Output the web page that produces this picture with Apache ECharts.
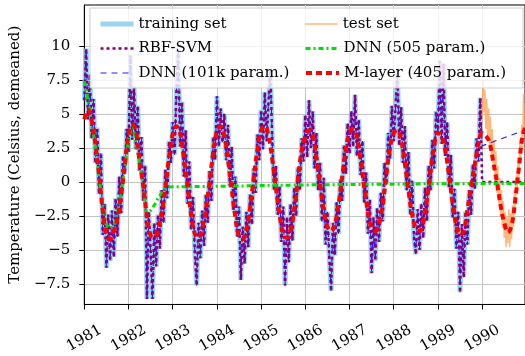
<!DOCTYPE html>
<html><head><meta charset="utf-8">
<script src="https://cdn.jsdelivr.net/npm/echarts@6/dist/echarts.min.js"></script>
<style>html,body{margin:0;padding:0;background:#fff}#c{width:525px;height:356px}</style>
</head><body><div id="c"></div>
<script>
// ---- axis ticks ----
const yearTicks = [1981, 1982, 1983, 1984, 1985, 1986, 1987, 1988, 1989, 1990];
const tempTicks = [-7.5, -5, -2.5, 0, 2.5, 5, 7.5, 10];

// ---- training set (semi-monthly samples, 24 per year) ----
const train1981 = [6.0, 9.8, 4.6, 7.9, 3.2, 6.1, 1.4, 4.0, -0.9, 2.1, -3.9, -1.6, -6.3, -2.4, -5.8, -2.1, -5.5, -1.2, -4.0, 0.4, -2.3, 1.9, 0.6, 3.9];
const train1982 = [2.2, 9.3, 3.1, 7.0, 2.4, 5.6, 0.8, 3.3, -1.4, 1.2, -8.6, -2.2, -5.1, -8.6, -3.0, -6.2, -2.4, -4.9, -0.6, -3.0, 0.9, -1.2, 3.0, 1.4];
const train1983 = [4.4, 2.0, 6.6, 9.7, 2.6, 5.9, 0.4, 3.8, -1.6, 1.5, -3.5, -1.1, -5.2, -7.6, -3.0, -5.6, -2.1, -4.7, -0.9, -3.0, 0.8, -1.4, 3.3, 1.6];
const train1984 = [6.3, 2.6, 5.4, 2.9, 5.0, 1.6, 4.2, -0.3, 2.6, -2.1, 0.4, -4.0, -1.8, -7.2, -3.3, -6.0, -2.2, -4.8, -0.9, -3.1, 1.0, -0.8, 3.5, 1.6];
const train1985 = [5.3, 2.4, 6.6, 3.0, 5.8, 8.2, 3.3, -0.6, 1.2, -2.4, -0.3, -4.4, -1.8, -7.6, -2.6, -5.9, -1.6, -4.3, -0.4, -2.5, 1.1, -0.6, 3.2, 1.5];
const train1986 = [4.9, 1.8, 6.0, 2.5, 5.2, 1.0, 3.6, -0.6, 1.4, -2.9, 0.3, -4.6, -2.2, -5.5, -8.0, -3.0, -5.4, -1.5, -3.8, 0.2, -1.4, 2.7, 0.6, 4.3];
const train1987 = [2.1, 5.2, 2.6, 6.4, 1.9, 4.6, 0.5, 3.0, -1.5, 0.7, -3.8, -1.3, -6.7, -2.6, -5.8, -1.9, -4.4, -0.8, -2.9, 1.4, -0.2, 3.6, 1.7, 5.6];
const train1988 = [3.0, 5.6, 8.2, 2.7, 5.5, 1.4, 4.1, -0.6, 2.2, -2.4, 0.1, -4.1, -5.3, -2.0, -5.0, -1.6, -4.1, -0.4, -2.9, 1.2, -0.6, 3.1, 1.0, 5.2];
const train1989 = [3.4, 8.9, 2.8, 8.7, 1.9, 4.4, -0.4, 2.0, -2.6, -0.5, -4.9, -2.2, -8.1, -3.1, -7.0, -2.2, -4.6, -0.6, -2.4, 1.3, -0.5, 3.2, 1.5, 6.2];

// ---- test set 1990 (weekly-ish samples, 48 per year) ----
const test1990 = [4.6, 7.6, 5.1, 6.8, 3.9, 6.1, 3.2, 5.4, 2.6, 4.8, 1.9, 3.9, 0.9, 3.1, 0.2, 2.3,
  -0.8, 1.2, -1.6, 0.3, -2.5, -0.6, -3.4, -1.4, -4.1, -2.2, -4.8, -2.6, -4.5, -2.0, -4.8, -2.3,
  -4.2, -1.7, -3.3, -0.6, -2.2, 0.5, -0.9, 1.8, 0.3, 3.1, 1.5, 4.2, 2.4, 6.5, 3.6, 5.8];

// ---- M-layer (405 param.) prediction, monthly from Jan 1981 ----
const mLayerMonthly = [
  4.6, 5.3, 4.5, 2.8, 0.5, -2.1, -3.9, -4.2, -3.6, -2.7, -1.0, 1.3,
  3.4, 4.2, 3.8, 1.5, -0.3, -2.5, -3.9, -4.1, -3.5, -2.3, -0.4, 1.8,
  3.5, 4.1, 3.6, 1.8, -0.3, -2.4, -3.8, -4.1, -3.4, -2.0, 0.0, 2.2,
  3.7, 4.1, 3.4, 1.6, -0.5, -2.6, -4.0, -4.2, -3.5, -1.9, 0.3, 2.4,
  3.8, 4.1, 3.4, 1.7, -0.4, -2.4, -3.8, -4.1, -3.5, -2.0, 0.2, 2.3,
  3.3, 3.8, 3.5, 1.8, -0.2, -2.1, -3.3, -3.6, -3.1, -1.7, 0.4, 2.4,
  3.6, 3.9, 3.3, 1.6, -0.4, -2.2, -3.4, -3.6, -3.1, -1.7, 0.5, 2.5,
  3.6, 3.8, 3.1, 1.4, -0.6, -2.4, -3.4, -3.6, -3.0, -1.4, 0.8, 2.7,
  3.6, 3.4, 2.3, 0.5, -1.6, -3.2, -3.9, -3.6, -2.0, -0.3, 1.3, 2.8,
  3.6, 3.4, 2.9, 1.5, 0.0, -1.7, -3.0, -3.7, -3.2, -1.3, 1.1, 3.4,
  4.2];

// ---- DNN (505 param.) prediction, monthly from Jan 1981 ----
const dnn505Monthly = [
  7.4, 6.0, 4.3, 2.6, 0.3, -1.6, -3.1, -3.4, -3.2, -2.2, -0.8, 1.0,
  3.0, 4.0, 2.9, 1.4, -0.3, -2.3, -2.1, -1.7, -1.2, -0.8, -0.5, -0.37,
  -0.36, -0.36, -0.36, -0.35, -0.35, -0.35, -0.34, -0.34, -0.34, -0.33, -0.33, -0.33,
  -0.32, -0.32, -0.31, -0.31, -0.30, -0.30, -0.29, -0.29, -0.28, -0.28, -0.27, -0.27,
  -0.26, -0.26, -0.25, -0.25, -0.25, -0.24, -0.24, -0.24, -0.23, -0.23, -0.23, -0.22,
  -0.22, -0.22, -0.21, -0.21, -0.21, -0.20, -0.20, -0.20, -0.20, -0.19, -0.19, -0.19,
  -0.19, -0.18, -0.18, -0.18, -0.18, -0.17, -0.17, -0.17, -0.17, -0.16, -0.16, -0.16,
  -0.16, -0.16, -0.15, -0.15, -0.15, -0.15, -0.15, -0.14, -0.14, -0.14, -0.14, -0.14,
  -0.14, -0.13, -0.13, -0.13, -0.13, -0.13, -0.13, -0.13, -0.12, -0.12, -0.12, -0.12,
  -0.12, -0.12, -0.12, -0.12, -0.12, -0.12, -0.12, -0.12, -0.12, -0.12, -0.12, -0.12,
  -0.12];

// ---- RBF-SVM and DNN (101k param.) on the test year (they reproduce the training set before) ----
const testEdges = [1990, 1991];
const rbfTest = [0.0, 0.0];
const dnn101kTest = [2.65, 3.85];

// ---------------------------------------------------------------
const FONT = 'DejaVu Serif';
const trainByYear = [[1981, train1981], [1982, train1982], [1983, train1983], [1984, train1984],
  [1985, train1985], [1986, train1986], [1987, train1987], [1988, train1988], [1989, train1989]];
const toPairs = (start, perYear, vals) => vals.map((v, k) => [start + k / perYear, v]);
const trainPairs = [].concat(...trainByYear.map(([y, a]) => toPairs(y, 24, a)));
const testPairs = toPairs(1990, 48, test1990);
const mLayerPairs = toPairs(1981, 12, mLayerMonthly);
const dnn505Pairs = toPairs(1981, 12, dnn505Monthly);
const rbfPairs = trainPairs.concat(testEdges.map((t, i) => [t, rbfTest[i]]));
const dnn101kPairs = trainPairs.concat(testEdges.map((t, i) => [t, dnn101kTest[i]]));

const base = { type: 'line', symbol: 'none', showSymbol: false, animation: false, silent: true,
  emphasis: { disabled: true } };
const minus = v => (v < 0 ? '\u2212' + Math.abs(v) : String(v));

const chart = echarts.init(document.getElementById('c'), null, { renderer: 'canvas' });
chart.setOption({
  animation: false,
  textStyle: { fontFamily: FONT },
  grid: { left: 84, top: 5, right: -2, bottom: 47, show: true, borderColor: '#000', borderWidth: 1, backgroundColor: 'transparent' },
  legend: {
    left: 90, top: 8, width: 470,
    padding: [5, 16, 4, 8],
    itemGap: 2.5, itemWidth: 33, itemHeight: 14,
    itemStyle: { opacity: 0, borderWidth: 0 },
    lineStyle: { width: 'inherit' },
    backgroundColor: 'rgba(255,255,255,0.8)', borderColor: '#cccccc', borderWidth: 1, borderRadius: 0,
    textStyle: { fontFamily: FONT, fontSize: 15, color: '#000', width: 163, lineHeight: 22 },
    data: ['training set', 'test set', 'RBF-SVM', 'DNN (505 param.)', 'DNN (101k param.)', 'M-layer (405 param.)']
  },
  xAxis: {
    type: 'value', min: 1981, max: 1990.97,
    axisLine: { show: true, onZero: false, lineStyle: { color: '#000', width: 1 } },
    axisTick: { show: true, customValues: yearTicks, length: 5, lineStyle: { color: '#000' } },
    axisLabel: { customValues: yearTicks, rotate: 30, align: 'center', verticalAlign: 'middle', margin: 34,
      fontFamily: FONT, fontSize: 15, color: '#000', formatter: v => String(v) },
    splitLine: { show: true, lineStyle: { color: '#c4c4c4', width: 1 } }
  },
  yAxis: {
    type: 'value', min: -9, max: 13,
    name: 'Temperature (Celsius, demeaned)', nameLocation: 'middle', nameGap: 60,
    nameTextStyle: { fontFamily: FONT, fontSize: 15, color: '#000' },
    axisLine: { show: true, onZero: false, lineStyle: { color: '#000', width: 1 } },
    axisTick: { show: true, customValues: tempTicks, length: 5, lineStyle: { color: '#000' } },
    axisLabel: { customValues: tempTicks, margin: 14, fontFamily: FONT, fontSize: 15, color: '#000', formatter: minus },
    splitLine: { show: true, lineStyle: { color: '#c4c4c4', width: 1 } }
  },
  series: [
    Object.assign({}, base, { name: 'training set', data: trainPairs, z: 2,
      itemStyle: { color: '#87ceeb' }, lineStyle: { color: '#87ceeb', width: 5, opacity: 0.85 } }),
    Object.assign({}, base, { name: 'test set', data: testPairs, z: 2,
      itemStyle: { color: '#ffa050' }, lineStyle: { color: '#ffa050', width: 1.5, opacity: 0.75 } }),
    Object.assign({}, base, { name: 'DNN (101k param.)', data: dnn101kPairs, z: 3,
      itemStyle: { color: '#1f1fff' }, lineStyle: { color: '#1f1fff', width: 1.1, type: [6, 5] } }),
    Object.assign({}, base, { name: 'RBF-SVM', data: rbfPairs, z: 3,
      itemStyle: { color: '#800080' }, lineStyle: { color: '#800080', width: 2.5, type: [3, 3] } }),
    Object.assign({}, base, { name: 'DNN (505 param.)', data: dnn505Pairs, z: 3, smooth: 0.3,
      itemStyle: { color: '#00e000' }, lineStyle: { color: '#00e000', width: 3, type: [5, 3, 2, 3] } }),
    Object.assign({}, base, { name: 'M-layer (405 param.)', data: mLayerPairs, z: 4, smooth: 0.4,
      itemStyle: { color: '#ff0000' }, lineStyle: { color: '#ff0000', width: 4, type: [6, 4] } })
  ]
});
</script></body></html>
